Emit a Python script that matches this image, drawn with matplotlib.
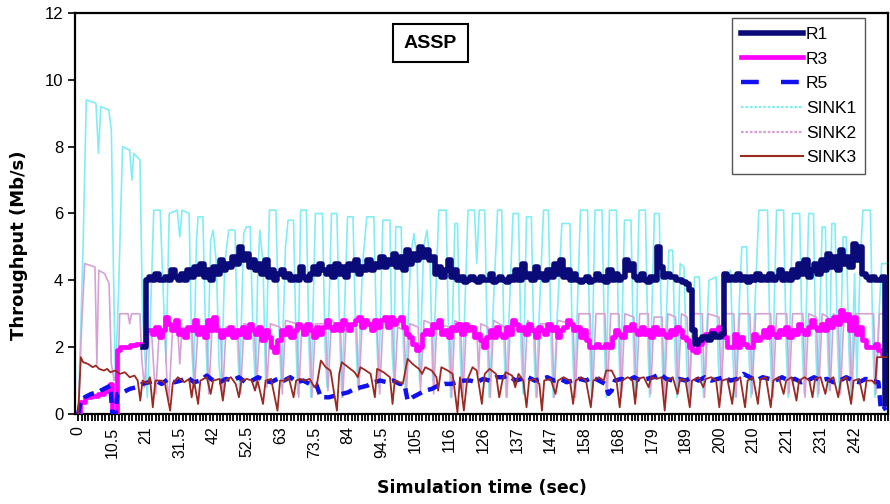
import numpy as np
import matplotlib
matplotlib.use("Agg")
import matplotlib.pyplot as plt
from matplotlib.ticker import MultipleLocator
from matplotlib.lines import Line2D

plt.rcParams['font.family'] = ['Liberation Sans', 'DejaVu Sans']

# ---------------- data ----------------
tick_pos = [0, 10.5, 21, 31.5, 42, 52.5, 63, 73.5, 84, 94.5, 105, 115.5, 126,
            136.5, 147, 157.5, 168, 178.5, 189, 199.5, 210, 220.5, 231, 241.5]
tick_labels = ["0", "10.5", "21", "31.5", "42", "52.5", "63", "73.5", "84", "94.5",
               "105", "116", "126", "137", "147", "158", "168", "179", "189",
               "200", "210", "221", "231", "242"]

# R1 : one value per second starting at t = 20 s
r1_start = 20
r1 = [2.0, 4.0, 4.1, 4.0, 4.2, 4.0, 4.0, 4.1, 4.0, 4.3,
      4.1, 4.0, 4.2, 4.0, 4.3, 4.1, 4.4, 4.2, 4.5, 4.1,
      4.3, 4.0, 4.4, 4.2, 4.6, 4.3, 4.5, 4.4, 4.7, 4.5,
      5.0, 4.6, 4.8, 4.4, 4.6, 4.3, 4.5, 4.2, 4.6, 4.1,
      4.3, 4.0, 4.2, 4.3, 4.1, 4.2, 4.0, 4.1, 4.0, 4.4,
      4.1, 4.0, 4.2, 4.4, 4.2, 4.5, 4.3, 4.2, 4.4, 4.1,
      4.5, 4.2, 4.4, 4.1, 4.5, 4.3, 4.6, 4.2, 4.4, 4.3,
      4.6, 4.3, 4.5, 4.4, 4.7, 4.4, 4.6, 4.5, 4.8, 4.4,
      4.7, 4.3, 4.9, 4.5, 4.8, 4.6, 5.0, 4.7, 4.9, 4.6,
      4.7, 4.2, 4.4, 4.1, 4.3, 4.6, 4.1, 4.3, 4.0, 4.1,
      3.95, 4.0, 4.1, 4.0, 3.95, 4.1, 4.0, 4.0, 4.2, 3.95,
      4.0, 4.1, 4.0, 3.95, 4.1, 4.0, 4.3, 4.0, 4.5, 4.1,
      4.2, 4.0, 4.4, 4.1, 4.2, 4.0, 4.3, 4.1, 4.5, 4.2,
      4.6, 4.1, 4.3, 4.0, 4.2, 4.0, 3.95, 4.0, 4.1, 3.95,
      4.0, 4.2, 4.0, 4.1, 3.95, 4.3, 4.0, 4.2, 4.0, 4.1,
      4.6, 4.3, 4.5, 4.1, 4.0, 4.2, 4.0, 3.95, 4.1, 4.0,
      5.0, 4.4, 4.1, 4.2, 4.1, 4.1, 4.0, 4.0, 3.95, 3.9,
      3.7, 2.5, 2.1, 2.2, 2.3, 2.3, 2.2, 2.4, 2.3, 2.3,
      2.4, 4.2, 4.0, 4.1, 4.0, 4.2, 4.0, 4.1, 3.95, 4.1,
      4.0, 4.2, 4.0, 4.1, 4.0, 4.2, 4.0, 4.1, 4.3, 4.0,
      4.2, 4.0, 4.3, 4.1, 4.5, 4.2, 4.6, 4.1, 4.3, 4.5,
      4.2, 4.6, 4.3, 4.8, 4.4, 4.7, 4.3, 4.9, 4.5, 4.7,
      4.4, 5.1, 4.6, 5.0, 4.2, 4.1, 4.0, 4.1, 4.0, 4.0,
      4.1, 0.3]

# R3 : short start-up break points, then one value per second from t = 12 s
r3_t_start = [0, 0.5, 2, 4, 6, 8, 9.5, 10, 10.5, 11.5]
r3_v_start = [0, 0.35, 0.5, 0.55, 0.6, 0.7, 0.8, 0.9, 0.0, 0.0]
r3_start = 12
r3 = [1.9, 2.0, 2.0, 2.0, 2.05, 2.05, 2.1, 2.1, 2.1, 2.5,
      2.5, 2.4, 2.6, 2.3, 2.5, 2.9, 2.7, 2.5, 2.8, 2.4,
      2.5, 2.3, 2.6, 2.5, 2.8, 2.4, 2.6, 2.3, 2.8, 2.5,
      2.9, 2.5, 2.3, 2.5, 2.4, 2.6, 2.3, 2.5, 2.4, 2.6,
      2.3, 2.7, 2.5, 2.4, 2.6, 2.2, 2.5, 2.3, 2.0, 1.85,
      2.2, 2.5, 2.4, 2.6, 2.3, 2.5, 2.7, 2.6, 2.4, 2.7,
      2.5, 2.3, 2.6, 2.4, 2.6, 2.8, 2.6, 2.5, 2.7, 2.5,
      2.8, 2.7, 2.5, 2.7, 2.8, 2.9, 2.6, 2.8, 2.7, 2.5,
      2.8, 2.6, 2.8, 2.9, 2.6, 2.9, 2.7, 2.8, 2.9, 2.6,
      2.4, 2.3, 2.1, 1.9, 2.0, 2.4, 2.5, 2.4, 2.7, 2.6,
      2.8, 2.4, 2.5, 2.3, 2.6, 2.5, 2.7, 2.4, 2.7, 2.5,
      2.6, 2.3, 2.4, 2.2, 2.0, 2.3, 2.5, 2.3, 2.6, 2.4,
      2.3, 2.6, 2.4, 2.8, 2.7, 2.5, 2.6, 2.4, 2.7, 2.5,
      2.3, 2.6, 2.5, 2.4, 2.7, 2.5, 2.6, 2.3, 2.5, 2.6,
      2.8, 2.7, 2.5, 2.6, 2.3, 2.5, 2.2, 2.0, 2.0, 2.1,
      2.0, 2.0, 2.1, 2.0, 2.3, 2.5, 2.4, 2.3, 2.6, 2.5,
      2.7, 2.5, 2.4, 2.6, 2.4, 2.5, 2.3, 2.6, 2.4, 2.5,
      2.4, 2.3, 2.5, 2.4, 2.6, 2.5, 2.3, 2.2, 2.0, 1.9,
      1.85, 2.1, 2.2, 2.4, 2.3, 2.5, 2.4, 2.6, 2.5, 2.3,
      2.0, 2.0, 2.4, 2.0, 2.3, 2.1, 2.0, 2.0, 2.4, 2.2,
      2.3, 2.5, 2.3, 2.6, 2.4, 2.3, 2.5, 2.4, 2.6, 2.3,
      2.5, 2.4, 2.7, 2.5, 2.4, 2.6, 2.8, 2.6, 2.5, 2.7,
      2.5, 2.8, 2.6, 2.9, 2.7, 3.1, 2.8, 3.0, 2.5, 2.9,
      2.4, 2.6, 2.2, 2.0, 2.0, 2.0, 2.1, 1.9, 1.8, 1.8]

# R5 : (time, value) break points
r5_t = [0, 0.8, 2, 4, 6, 8, 10, 10.6, 11.6, 12.2, 14, 16, 18, 20, 22, 24, 26, 28,
        30, 32, 34, 36, 38, 40, 42, 44, 46, 48, 50, 52, 54, 56, 58, 60, 62, 64,
        66, 68, 70, 72, 74, 75.5, 78, 80, 82, 84, 86, 88, 90, 92, 94, 96, 98,
        100, 101.5, 102.5, 104, 106, 108, 110, 112, 114, 116, 118, 120, 122,
        124, 126, 128, 130, 132, 134, 136, 138, 140, 142, 144, 146, 148, 150,
        152, 154, 156, 158, 160, 162, 164, 165, 166, 167, 169, 171, 173, 175,
        177, 179, 181, 183, 185, 187, 189, 191, 193, 195, 197, 199, 201, 203,
        205, 207, 209, 211, 213, 215, 217, 219, 221, 223, 225, 227, 229, 231,
        233, 235, 237, 239, 241, 243, 245, 247, 249, 249.8, 251.5]
r5_v = [0, 0.4, 0.5, 0.6, 0.65, 0.75, 0.85, 0.0, 0.0, 0.6, 0.65, 0.75, 0.8, 0.9,
        0.95, 1.0, 0.9, 1.05, 0.95, 1.0, 1.1, 0.95, 1.0, 1.15, 1.0, 0.95, 1.05,
        1.0, 1.1, 0.95, 1.0, 1.1, 1.0, 0.95, 1.05, 1.0, 1.1, 0.95, 1.0, 0.9,
        0.9, 0.5, 0.5, 0.55, 0.6, 0.65, 0.75, 0.8, 0.85, 0.95, 1.0, 0.95, 1.0,
        0.9, 0.9, 0.4, 0.5, 0.6, 0.7, 0.75, 0.85, 0.9, 0.9, 0.95, 1.0, 1.0,
        0.95, 1.05, 1.0, 1.1, 1.1, 1.15, 1.0, 1.05, 1.1, 1.0, 1.05, 1.1, 1.0,
        1.05, 0.95, 1.0, 1.05, 1.0, 1.1, 1.0, 0.9, 0.6, 0.7, 1.0, 1.05, 1.0,
        1.1, 1.0, 1.05, 1.1, 1.2, 1.05, 1.0, 1.05, 1.0, 1.1, 1.0, 1.1, 1.0,
        1.05, 1.1, 1.0, 1.05, 1.2, 1.1, 1.0, 1.1, 1.05, 1.0, 1.1, 1.0, 1.05,
        0.95, 1.0, 1.1, 1.0, 1.05, 0.95, 1.0, 1.1, 1.0, 0.95, 1.05, 1.0, 0.95,
        0.1, 0.2]

# SINK1 : (time, value) break points
sink1_t = [0, 1.5, 2.5, 5.5, 6.3, 7.0, 9.5, 10.3, 11.5, 12.5, 13.8, 16, 16.7, 17.3,
           19.2, 20, 21.5, 22.5, 23.5, 25.5, 26.5, 27.3, 28.3, 30.8, 31.6, 32.3,
           34.5, 35.3, 35.9, 36.8, 37.3, 38.8, 39.6, 40.2, 41.2, 42, 43, 43.8,
           44.5, 45.6, 46.8, 48.8, 49.6, 50.2, 51.5, 52.3, 53.5, 54.5, 55.2,
           55.8, 56.5, 57.5, 58.3, 59.5, 61.5, 62.5, 63.2, 64.5, 65.3, 67, 67.8,
           68.3, 69.2, 71, 71.8, 72.4, 73.8, 76, 76.8, 77.4, 78.8, 80.5, 81.3,
           82, 83.8, 85.5, 86.3, 87, 88.5, 89.8, 92, 92.8, 93.5, 94.8, 97, 97.6,
           98.2, 98.8, 100.5, 101.2, 101.8, 103.5, 104.5, 105.5, 106.2, 107.5,
           108.5, 109.5, 110.3, 112.2, 114.5, 115.3, 115.9, 117.2, 118, 118.8,
           119.4, 121.3, 123.3, 124, 124.8, 126.5, 127.3, 127.9, 130.5, 131.8,
           132.5, 133.1, 135.3, 137, 137.8, 138.4, 139.5, 141, 141.8, 142.4,
           144.8, 146.3, 147.2, 147.8, 150.5, 153, 153.8, 154.4, 156.3, 158.5,
           159.2, 159.7, 160.8, 163, 163.8, 164.3, 165.3, 167.5, 168.2, 168.7,
           170, 172, 172.8, 173.3, 174.5, 176.5, 177.3, 177.8, 179.3, 180.8,
           181.6, 182.1, 183.8, 185, 185.8, 186.3, 187.3, 188.5, 189.3, 189.9,
           191.8, 193.3, 194, 194.6, 196.3, 198.5, 199.2, 199.8, 201, 203, 203.8,
           204.4, 206.5, 208, 208.8, 209.4, 211.8, 214.5, 215.3, 215.9, 217.3,
           219.5, 220.3, 220.9, 222.3, 224.5, 225.3, 225.9, 227.3, 228.8, 229.5,
           230.1, 231.5, 232.5, 233.2, 233.7, 234.5, 235.5, 236.3, 236.9, 238,
           239, 239.8, 240.4, 241.6, 242.3, 243.3, 244.2, 246.5, 247.3, 247.9,
           250, 251.5]
sink1_v = [0, 5.0, 9.4, 9.3, 7.8, 9.2, 9.1, 8.5, 1.0, 3.5, 8.0, 7.9, 7.0, 7.8,
           7.6, 3.0, 0.5, 3.0, 6.1, 6.1, 3.5, 1.5, 6.0, 6.1, 5.3, 6.1,
           6.0, 2.0, 1.0, 5.2, 5.9, 5.9, 2.5, 1.0, 5.2, 5.5, 4.5, 1.5,
           0.8, 4.5, 5.5, 5.5, 2.0, 0.7, 5.4, 5.6, 5.6, 2.0, 0.8,
           4.0, 5.5, 4.5, 1.0, 6.1, 6.1, 2.5, 0.8, 5.0, 5.8, 5.8, 2.0,
           0.6, 6.1, 6.1, 2.0, 0.5, 6.0, 6.0, 2.0, 0.8, 6.0, 6.0, 2.5,
           0.5, 5.9, 5.9, 2.5, 0.8, 4.5, 5.9, 5.9, 2.5, 0.8, 5.8, 5.8, 2.0,
           1.0, 5.6, 5.6, 2.0, 0.7, 4.8, 5.4, 4.5, 1.0, 5.0,
           5.5, 4.5, 1.0, 6.1, 6.1, 2.0, 0.5, 5.7, 5.7, 2.0,
           0.5, 6.1, 6.1, 4.5, 6.1, 6.1, 2.0, 0.5, 6.1, 6.1,
           2.0, 0.5, 6.0, 6.0, 2.0, 0.6, 5.9, 5.9, 2.0, 0.5,
           6.1, 6.1, 2.0, 0.5, 5.7, 5.7, 2.0, 0.5, 6.1, 6.1,
           2.0, 0.5, 6.1, 6.1, 2.0, 0.5, 6.1, 6.1, 2.0, 0.6,
           5.8, 5.8, 2.0, 0.5, 6.1, 6.1, 2.0, 0.5, 6.0, 6.0,
           2.0, 0.6, 4.9, 4.9, 1.5, 0.5, 4.5, 4.4, 1.5, 0.5,
           4.1, 4.1, 1.5, 0.5, 4.0, 4.1, 1.5, 0.5, 4.0, 4.3, 1.5,
           0.5, 5.0, 5.0, 1.5, 0.5, 6.1, 6.1, 2.0, 0.5, 6.1,
           6.1, 2.0, 0.5, 6.0, 6.0, 2.0, 0.6, 6.0, 6.0, 2.0,
           0.5, 5.6, 5.6, 2.0, 0.7, 5.7, 5.7, 2.0, 0.6, 5.3,
           5.3, 2.0, 0.5, 4.2, 1.0, 4.5, 6.1, 6.1, 2.0, 0.5,
           4.5, 4.5]

# SINK2 : (time, value) break points
sink2_t = [0, 1, 2, 5.2, 5.8, 6.4, 8.2, 9.6, 10.3, 11.2, 12.4, 12.9, 15.5, 16, 16.6,
           19.2, 19.8, 20.6, 21.6, 22.8, 23.6, 24.1, 25.2, 27, 27.6, 28.2, 29.4,
           31, 31.6, 32.3, 35.4, 36.2, 37.3, 40, 40.6, 41.7, 44.3, 44.9, 46,
           49.8, 50.5, 51.6, 54.8, 55.5, 56.5, 58.2, 58.7, 59.8, 62.8, 63.5,
           64.5, 68, 68.6, 69.6, 72, 72.7, 73.8, 77, 77.7, 78.8, 81.6, 82.3,
           83.4, 86.6, 87.3, 88.4, 93, 93.8, 94.8, 97.8, 98.5, 99.4, 101.4,
           102.1, 103.2, 105.8, 106.5, 107.6, 110, 110.6, 111.6, 115.5, 116.2,
           117.2, 119, 119.7, 120.8, 124, 124.6, 125.3, 127.5, 128.2, 129.3,
           132.7, 133.4, 134.5, 138, 138.7, 139.8, 142, 142.7, 143.8, 147.4,
           148.1, 149.2, 154, 154.7, 155.8, 159.3, 160, 161.1, 163.9, 164.6,
           165.7, 168.3, 169, 170.1, 172.9, 173.6, 174.7, 177.4, 178.1, 179.2,
           181.7, 182.4, 183.5, 185.9, 186.6, 187.7, 189.5, 190.2, 191.3,
           194.2, 194.9, 196, 199.4, 200.1, 201.2, 204, 204.7, 205.8, 209,
           209.7, 210.8, 215.5, 216.2, 217.3, 220.5, 221.2, 222.3, 225.5,
           226.2, 227.3, 229.7, 230.4, 231.5, 233.3, 234, 235, 236.5, 237.2,
           238.3, 240, 240.7, 241.8, 247.5, 248.2, 249.3, 251.5]
sink2_v = [0, 2.5, 4.5, 4.4, 1.5, 4.3, 4.2, 3.9, 1.5, 1.0, 1.3, 3.0, 3.0, 2.7, 3.0,
           3.0, 1.6, 0.8, 2.3, 2.5, 1.2, 0.6, 2.5, 2.5, 1.0, 0.4, 2.6,
           2.5, 1.5, 2.6, 2.5, 0.8, 2.6, 2.5, 0.6, 2.7, 2.6, 0.5, 2.6,
           2.5, 0.6, 2.7, 2.6, 0.8, 2.5, 2.4, 0.8, 2.7, 2.6, 0.6,
           2.8, 2.7, 0.5, 2.7, 2.6, 0.5, 2.7, 2.7, 0.7, 2.8, 2.6, 0.5,
           2.7, 2.6, 0.7, 2.8, 2.7, 0.6, 2.7, 2.6, 0.9, 2.6, 2.5,
           0.6, 2.7, 2.6, 0.7, 2.8, 2.7, 0.6, 2.7, 2.6, 0.5,
           2.8, 2.7, 0.5, 2.7, 2.6, 1.2, 2.7, 2.6, 0.5, 2.8,
           2.6, 0.5, 2.7, 2.7, 0.6, 2.8, 2.6, 0.5, 2.7, 2.7,
           0.5, 2.8, 2.7, 0.5, 3.0, 3.0, 0.5, 3.0, 3.0, 0.6,
           3.0, 3.0, 0.5, 3.0, 2.9, 0.5, 3.0, 3.0, 0.6, 2.9,
           2.9, 0.5, 3.0, 2.9, 0.6, 3.0, 2.9, 0.5, 3.0,
           3.0, 0.5, 3.0, 2.9, 0.6, 3.0, 3.0, 0.5, 3.0, 3.0,
           0.6, 3.0, 3.0, 0.5, 3.0, 3.0, 0.6, 3.0, 3.0,
           0.5, 3.0, 2.9, 0.6, 3.0, 2.9, 0.7, 3.0, 2.9, 0.6,
           3.0, 2.9, 0.5, 3.0, 3.0, 0.6, 3.0, 3.0]

# SINK3 : (time, value) break points
sink3_t = [0, 0.8, 1.5, 3, 4.5, 5.5, 6.5, 8, 9, 10, 11.5, 13, 14.5, 16, 17.5, 18.5,
           19.3, 20, 21.5, 22.3, 23.2, 24, 26, 27, 28.6, 29.4, 31, 33, 34.5, 35.3,
           36, 37.3, 38, 40, 41.2, 42, 44, 45, 45.8, 47.5, 49, 50, 50.8, 52.5, 54,
           55, 55.8, 57.5, 58.3, 60, 62, 62.8, 64.5, 65.5, 67, 67.8, 69, 70.5, 72,
           73.5, 74.3, 75.5, 77, 78.5, 80.5, 81.2, 82, 84, 86, 87, 87.8, 89.5, 91,
           92.3, 93, 95, 97, 97.8, 98.5, 100, 101, 102.5, 104, 106, 107, 108, 110,
           111.5, 112, 113, 115, 116.5, 118, 118.8, 120, 121, 122.7, 124, 125.6,
           126.5, 128, 130, 131, 132, 133, 135, 136, 137, 138.5, 139.5, 140.3,
           142, 143.5, 144.3, 145, 147, 148.5, 149.3, 151, 153, 154, 154.8,
           156.5, 158, 159.5, 160.3, 162, 163.5, 164.3, 166, 167.5, 168.5,
           169.3, 171, 172.5, 173.3, 174, 176, 177.5, 178.3, 180, 181.5, 182.5,
           183.3, 185, 186.5, 187.3, 189, 190.3, 191, 193, 194.5, 195.3, 197,
           198.5, 199.5, 200.3, 202, 203.5, 204.3, 206, 207.5, 208.3, 210,
           211.5, 212.3, 214, 215.5, 216.3, 218, 219.5, 220.3, 222, 223.5,
           224.3, 226, 227.5, 228.5, 229.3, 231, 232.5, 233.3, 235, 236.5,
           237.3, 239, 240.5, 241.3, 243, 244.5, 245.3, 247, 248, 248.6, 251.5]
sink3_v = [0, 1.7, 1.55, 1.5, 1.4, 1.45, 1.35, 1.3, 1.35, 1.25, 1.3, 1.2, 1.25, 1.1,
           1.15, 1.0, 0.4, 1.0, 0.9, 1.1, 0.2, 1.0, 1.0, 0.9, 0.1, 0.9, 1.1, 0.95,
           1.05, 0.5, 1.0, 0.3, 1.0, 1.1, 0.6, 1.0, 1.05, 0.4, 1.0, 1.1, 0.9, 0.5,
           1.0, 1.05, 1.0, 0.7, 1.0, 0.3, 1.0, 1.05, 0.1, 1.0, 1.0, 1.1, 0.5, 1.0,
           1.05, 1.0, 1.05, 0.8, 0.9, 1.6, 1.4, 1.3, 0.1, 1.2, 1.55, 1.4, 1.25,
           1.1, 1.4, 1.3, 1.2, 0.5, 1.35, 1.25, 1.1, 0.3, 1.0, 0.95, 0.9, 1.65,
           1.5, 1.35, 1.2, 1.4, 1.3, 1.1, 0.7, 1.4, 1.3, 1.2, 0.05, 1.1, 0.1, 1.0,
           1.4, 1.3, 0.3, 1.2, 1.35, 1.2, 0.5, 1.0, 1.25, 1.15, 0.8, 1.2, 1.0,
           0.2, 1.0, 1.05, 0.9, 0.1, 1.0, 1.05, 0.6, 1.0, 1.1, 1.0, 0.3, 1.0,
           1.1, 1.0, 0.2, 1.0, 1.1, 1.0, 1.3, 1.3, 1.0, 0.2, 1.0, 1.1, 1.0, 0.3,
           1.05, 1.1, 0.8, 1.1, 1.05, 1.1, 0.1, 1.0, 1.1, 0.6, 1.05, 1.0, 0.2,
           1.0, 1.1, 0.8, 1.05, 1.1, 1.0, 0.2, 1.0, 1.05, 0.3, 1.0, 1.1, 0.2,
           1.0, 1.1, 0.3, 1.05, 1.1, 0.2, 1.0, 1.1, 0.6, 1.0, 1.1, 0.4, 1.0,
           1.1, 1.0, 0.5, 1.05, 1.1, 0.6, 1.0, 1.1, 0.5, 1.0, 1.1, 0.3, 1.0,
           1.05, 0.4, 1.0, 1.0, 0.9, 1.7, 1.7]

series_names = ["R1", "R3", "R5", "SINK1", "SINK2", "SINK3"]
colors = ["#0A0A78", "#FF00FF", "#1010F0", "#80EEF4", "#D6A2D6", "#9A2A22"]

# ---------------- figure ----------------
W, H = 890, 504
fig = plt.figure(figsize=(W / 100, H / 100), dpi=100)
ax = fig.add_axes([0.0843, 0.1786, 0.9135, 0.7956])

t_r1 = r1_start + np.arange(len(r1))
t_r3 = np.concatenate([r3_t_start, r3_start + np.arange(len(r3))])
v_r3 = np.concatenate([r3_v_start, r3])

ax.plot(sink1_t, sink1_v, color=colors[3], lw=1.2, zorder=2)
ax.plot(sink2_t, sink2_v, color=colors[4], lw=1.2, zorder=3)
ax.plot(t_r3, v_r3, color=colors[1], lw=3.4, drawstyle="steps-post", zorder=4)
ax.plot(t_r1, r1, color=colors[0], lw=4.0, drawstyle="steps-post", zorder=5)
ax.plot(r5_t, r5_v, color=colors[2], lw=3.2, ls=(0, (2.5, 1.5)), zorder=6)
ax.plot(sink3_t, sink3_v, color=colors[5], lw=1.3, zorder=7)

ax.set_xlim(-1, 252)
ax.set_ylim(0, 12)
ax.set_yticks(range(0, 13, 2))
ax.set_xticks(tick_pos)
ax.set_xticklabels(tick_labels, rotation=90)
ax.xaxis.set_minor_locator(MultipleLocator(1.05))
ax.tick_params(axis="x", which="major", length=5, width=1.3, labelsize=11.5, pad=4)
ax.tick_params(axis="x", which="minor", length=5, width=1.3)
ax.tick_params(axis="y", which="major", length=5, width=1.2, labelsize=12)
for s in ax.spines.values():
    s.set_linewidth(1.6)
    s.set_color("black")

ax.set_ylabel("Throughput (Mb/s)", fontsize=13, fontweight="bold",
              family="DejaVu Sans")
ax.yaxis.set_label_coords(-0.058, 0.42)
ax.set_xlabel("Simulation time (sec)", fontsize=12.5, fontweight="bold",
              family="DejaVu Sans", labelpad=15)

ax.text(0.437, 0.925, "ASSP", transform=ax.transAxes, ha="center", va="center",
        fontsize=14, fontweight="bold",
        bbox=dict(boxstyle="square,pad=0.55", fc="white", ec="black", lw=1.5),
        zorder=10)

handles = [
    Line2D([], [], color=colors[0], lw=4.0),
    Line2D([], [], color=colors[1], lw=3.4),
    Line2D([], [], color=colors[2], lw=3.2, ls=(0, (4, 5))),
    Line2D([], [], color=colors[3], lw=1.6, ls=(0, (1.2, 0.8))),
    Line2D([], [], color=colors[4], lw=1.6, ls=(0, (1.2, 0.8))),
    Line2D([], [], color=colors[5], lw=1.5),
]
leg = ax.legend(handles, series_names,
                loc="upper right", bbox_to_anchor=(1.0, 1.0),
                bbox_transform=fig.transFigure,
                fontsize=12.5, handlelength=3.6, handletextpad=0.15,
                labelspacing=0.55, borderpad=0.5, borderaxespad=0.0,
                fancybox=False, framealpha=1, edgecolor="#555555")
leg.get_frame().set_linewidth(1.0)
leg.set_zorder(11)

# place the legend frame so its upper-right corner sits at pixel (865, 18)
fig.canvas.draw()
bb = leg.get_window_extent()
dx = 865 - bb.x1
dy = (H - 18) - bb.y1
leg.set_bbox_to_anchor((1.0 + dx / W, 1.0 + dy / H), transform=fig.transFigure)

fig.savefig("out.png", dpi=100)
